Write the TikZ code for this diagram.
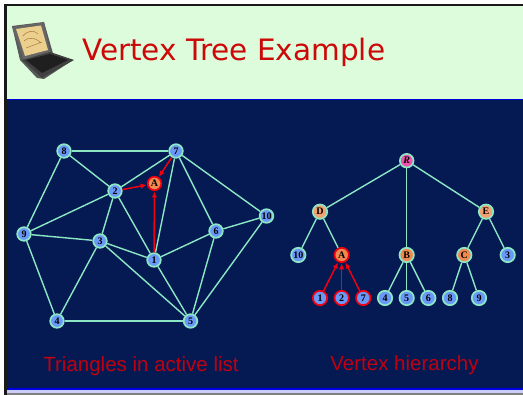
\documentclass[tikz,border=0pt]{standalone}
\usepackage{fontspec}
\setmainfont{Liberation Serif}
\newfontfamily\titlefont{DejaVu Sans}
\newfontfamily\capfont{Liberation Sans}
\usetikzlibrary{arrows.meta}
\definecolor{navy}{HTML}{051A52}
\definecolor{mint}{HTML}{8CE8C4}
\definecolor{vblue}{HTML}{6A98F8}
\definecolor{vorange}{HTML}{F08850}
\definecolor{dorange}{HTML}{F4A070}
\definecolor{vpink}{HTML}{F050B0}
\definecolor{redtxt}{HTML}{C00010}
\definecolor{titlered}{HTML}{CC0808}
\definecolor{arrowred}{HTML}{F00010}
\definecolor{lav}{HTML}{CCCCF8}
\definecolor{hdr}{HTML}{DCFCDC}
\definecolor{screen}{HTML}{EBCF8C}
\tikzset{x=1pt,y=-1pt,
 v/.style={circle,draw=mint,line width=1.7pt,fill=vblue,minimum size=13.6pt,inner sep=0pt,text=black,font=\bfseries\fontsize{10}{10}\selectfont},
 vs/.style={v,minimum size=14.4pt},
 act/.style={v,draw=arrowred,fill=vorange},
 edge/.style={draw=mint,line width=1.4pt},
 redge/.style={draw=arrowred,line width=1.5pt,-{Latex[length=6pt,width=5.5pt]},shorten >=0.3pt},
 captext/.style={text=redtxt,font=\capfont\fontsize{20.5}{22}\selectfont}}
\begin{document}
\begin{tikzpicture}
\useasboundingbox (0,0) rectangle (523,395);
\fill[white] (0,0) rectangle (523,395);
\fill[black!90] (4,4) rectangle (523,6);
\fill[black!90] (4,4) rectangle (6.5,395);
\fill[hdr] (6.5,6) rectangle (523,99);
\fill[navy] (7,100) rectangle (523,389);
\fill[blue!85!black] (7,99) rectangle (523,100.2);
\fill[blue!90!black] (7,388.5) rectangle (523,390);
\fill[lav] (7,390) rectangle (523,393);
\fill[black!50] (7,393) rectangle (523,395);
% laptop
\fill[black!65] (12,26) -- (44,22) -- (54,57) -- (73,60) -- (44,79) -- (37,78) -- (20,60) -- cycle;
\fill[black!60] (12,27) -- (44,22.5) -- (50,52) -- (24,60) -- cycle;
\fill[black!75] (22,60) -- (50,52) -- (74,60) -- (42,78) -- cycle;
\fill[black!88] (26,60) -- (50,54) -- (68,60) -- (42,73) -- cycle;
\fill[screen] (16,29) -- (41,25.5) -- (48,50) -- (25,56) -- cycle;
\draw[black!30!orange!60!gray,line width=.4pt] (23,36) .. controls (28,30) and (34,30) .. (38,34) (24,41) .. controls (30,36) and (36,38) .. (41,43) (26,48) -- (42,42);
% title
\node[anchor=west,text=titlered,font=\titlefont\fontsize{29.5}{32}\selectfont,inner sep=0pt] (title) at (82,52) {Vertex Tree Example};
% left mesh
\foreach \n/\x/\y in {8/64/151,7/176/151,2/115/191,9/24/234,3/100/241,1/154/260,6/216/231,10/266.5/216,4/57/321,5/190.5/321}{
  \node[v] (L\n) at (\x,\y) {\n};}
\node[act] (LA) at (154.5,183.5) {A};
\foreach \a/\b in {8/7,8/2,8/9,7/2,7/1,7/6,7/10,2/9,2/3,2/1,9/3,9/4,3/4,3/1,3/5,1/6,1/5,6/10,6/5,10/5,4/5}{
  \draw[edge] (L\a) -- (L\b);}
\draw[redge] (L7) -- (LA);
\draw[redge] (L2) -- (LA);
\draw[redge] (L1) -- (LA);
% tree
\node[v,fill=vpink,font=\bfseries\itshape\fontsize{10}{10}\selectfont] (R) at (406.7,160.7) {R};
\node[vs,fill=dorange] (D) at (320,211.7) {D};
\node[vs,fill=dorange] (E) at (486,211.7) {E};
\node[vs] (T10) at (298.3,255) {10};
\node[vs,fill=vorange,draw=arrowred] (A) at (341.7,255) {A};
\node[vs,fill=vorange] (B) at (406.7,255) {B};
\node[vs,fill=vorange] (C) at (464.3,255) {C};
\node[vs] (T3) at (507.7,255) {3};
\node[vs,draw=arrowred] (T1) at (320,298) {1};
\node[vs,draw=arrowred] (T2) at (341.7,298) {2};
\node[vs,draw=arrowred] (T7) at (363.3,298) {7};
\node[vs] (T4) at (385,298) {4};
\node[vs] (T5) at (406.7,298) {5};
\node[vs] (T6) at (428.3,298) {6};
\node[vs] (T8) at (450,298) {8};
\node[vs] (T9) at (479,298) {9};
\foreach \a/\b in {R/D,R/B,R/E,D/T10,D/A,B/T4,B/T5,B/T6,E/C,E/T3,C/T8,C/T9}{
  \draw[edge] (\a) -- (\b);}
\draw[redge] (T1) -- (A);
\draw[redge] (T2) -- (A);
\draw[redge] (T7) -- (A);
% captions
\node[captext] (c1) at (141,366) {Triangles in active list};
\node[captext] (c2) at (404.5,365) {Vertex hierarchy};
\end{tikzpicture}
\end{document}
